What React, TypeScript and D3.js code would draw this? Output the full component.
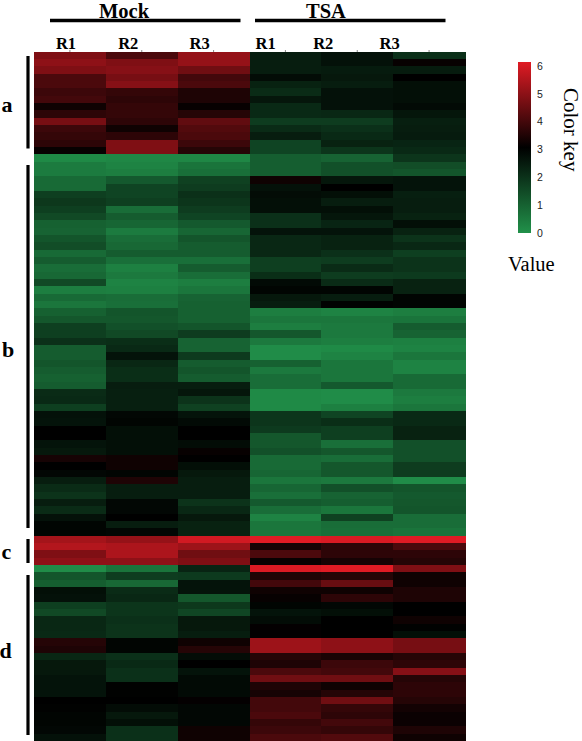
import * as d3 from 'd3';

const samples = ['Mock R1', 'Mock R2', 'Mock R3', 'TSA R1', 'TSA R2', 'TSA R3'];

// heatmap values per sample, top row to bottom row (94 rows)
const mockR1 = [
  4.7, 4.9, 4.7, 4.0, 4.0, 3.8, 3.9, 3.2, 3.6, 4.6, 3.8, 3.7, 3.6, 3.1,
  0.15, 0.45, 0.45, 0.8, 0.8, 1.7, 1.85, 1.7, 1.5, 1.0, 0.95, 1.25, 1.4, 0.8, 1.1, 0.75, 0.85, 1.5, 0.4, 0.8, 0.55, 1.0, 1.2,
  1.7, 1.7, 2.0, 1.1, 1.1, 1.25, 1.1, 1.0, 1.1, 2.1, 2.15, 1.7, 2.65, 2.6, 3.0, 3.0, 2.6, 2.5, 3.3, 3.0, 2.85, 2.4,
  2.1, 1.95, 2.4, 2.1, 2.65, 2.9, 2.9, 5.2, 5.4, 4.7, 4.9, 0.1, 1.25, 1.05,
  2.7, 2.65, 1.7, 1.5, 2.2, 2.2, 2.15, 3.5, 3.4, 2.2, 2.5, 2.5, 2.6, 2.6, 2.6, 3.0, 2.95, 2.9, 2.9, 2.85, 2.65,
];
const mockR2 = [
  4.0, 4.7, 4.8, 4.6, 4.8, 3.7, 3.6, 3.7, 3.7, 3.6, 3.2, 3.6, 4.7, 4.7,
  0.2, 0.3, 0.4, 1.15, 1.6, 1.6, 1.7, 0.75, 1.1, 0.9, 0.45, 0.75, 0.85, 1.1, 0.7, 0.35, 0.5, 0.3, 0.35, 0.75, 0.7, 1.25, 1.2,
  1.35, 1.5, 2.05, 2.15, 2.6, 2.2, 2.05, 2.05, 2.4, 2.35, 2.35, 2.35, 2.85, 2.9, 2.7, 2.7, 2.7, 2.7, 3.2, 3.2, 2.9, 3.4,
  2.4, 2.4, 2.85, 2.85, 3.0, 2.4, 2.85, 5.0, 5.3, 5.3, 4.9, 0.6, 1.75, 0.85,
  2.1, 2.2, 1.9, 1.9, 2.0, 1.95, 1.95, 2.9, 2.9, 2.0, 2.15, 2.0, 2.0, 2.95, 2.95, 3.0, 2.75, 2.5, 2.7, 2.0, 2.0,
];
const mockR3 = [
  5.0, 5.0, 4.5, 3.9, 4.0, 3.4, 3.4, 3.1, 3.5, 4.3, 4.1, 4.0, 3.8, 3.5,
  0.2, 0.6, 0.7, 1.65, 1.75, 2.0, 1.9, 1.75, 1.6, 1.15, 0.9, 1.25, 1.1, 1.1, 0.7, 1.1, 0.75, 0.4, 0.55, 0.95, 1.0, 1.0, 1.0,
  1.25, 1.75, 0.95, 0.95, 1.8, 1.1, 1.25, 1.1, 2.4, 2.55, 1.95, 1.65, 2.6, 2.8, 3.0, 3.0, 2.75, 3.1, 3.0, 2.7, 2.5, 2.4,
  2.4, 2.4, 1.95, 2.2, 2.5, 2.3, 2.3, 5.8, 5.1, 4.5, 4.7, 2.25, 1.8, 2.6,
  2.6, 1.2, 1.85, 1.55, 2.5, 2.5, 2.4, 3.2, 3.5, 2.75, 3.0, 2.6, 2.8, 2.8, 2.8, 3.05, 2.85, 2.85, 2.85, 3.2, 3.2,
];
const tsaR1 = [
  2.4, 2.4, 2.4, 2.75, 2.3, 2.1, 2.55, 2.15, 2.15, 1.75, 2.1, 2.4, 1.6, 1.6,
  1.05, 1.05, 1.05, 3.2, 2.65, 2.75, 2.7, 2.7, 2.0, 2.0, 2.6, 2.2, 2.2, 2.2, 1.7, 1.7, 2.05, 2.8, 2.9, 2.5, 2.4, 0.4, 0.55,
  0.4, 1.2, 0.5, 0.1, 0.1, 1.0, 0.5, 0.75, 0.75, 0.15, 0.15, 0.15, 1.9, 1.9, 1.8, 1.2, 1.2, 1.35, 0.8, 0.8, 0.9, 0.55,
  0.9, 0.7, 1.15, 0.75, 0.3, 0.55, 0.55, 6.0, 3.3, 4.0, 3.1, 5.9, 3.4, 3.9,
  3.2, 3.1, 2.9, 2.6, 2.75, 3.05, 3.05, 5.1, 5.1, 3.5, 3.4, 4.0, 4.5, 3.4, 3.3, 3.9, 3.9, 4.0, 3.7, 3.8, 4.0,
];
const tsaR2 = [
  2.65, 2.65, 2.45, 2.5, 2.4, 2.65, 2.65, 2.65, 2.2, 1.75, 2.0, 2.15, 2.3, 1.9,
  0.95, 1.35, 1.35, 2.55, 3.0, 2.7, 2.4, 2.7, 2.55, 2.25, 2.6, 2.3, 2.3, 2.0, 1.75, 2.1, 1.75, 2.1, 2.9, 2.4, 2.95, 0.3, 0.55,
  0.5, 0.5, 0.4, 0.15, 0.3, 0.55, 0.55, 0.55, 1.15, 0.1, 0.1, 0.35, 1.6, 2.05, 1.7, 1.7, 0.7, 1.2, 0.75, 1.2, 1.2, 0.5,
  1.35, 0.95, 1.05, 0.55, 1.65, 0.75, 0.7, 5.9, 3.6, 3.6, 3.3, 6.0, 3.5, 4.4,
  3.2, 3.6, 2.85, 2.7, 3.0, 3.0, 3.0, 4.9, 4.9, 3.35, 3.8, 3.9, 4.5, 3.2, 3.5, 4.5, 3.7, 3.6, 3.9, 3.7, 4.1,
];
const tsaR3 = [
  2.0, 3.1, 2.45, 3.0, 2.7, 2.7, 2.7, 2.8, 2.55, 2.35, 2.4, 2.45, 2.25, 2.15,
  1.9, 1.4, 1.25, 2.6, 2.6, 2.35, 2.4, 2.4, 2.3, 2.7, 2.3, 1.95, 2.2, 1.7, 1.95, 1.95, 1.8, 2.3, 2.3, 2.9, 2.9, 0.4, 0.6,
  1.1, 0.95, 0.35, 0.3, 0.55, 0.3, 0.3, 0.8, 0.8, 0.5, 0.4, 0.55, 2.15, 2.15, 2.3, 2.3, 1.35, 1.35, 1.35, 1.75, 1.75, 0.1,
  1.25, 1.15, 1.2, 1.25, 0.75, 0.75, 0.6, 6.0, 4.0, 3.6, 3.5, 4.7, 3.2, 3.2,
  3.4, 3.4, 3.0, 3.0, 3.2, 2.95, 2.7, 4.6, 4.6, 3.5, 3.6, 4.8, 3.5, 3.6, 3.6, 3.5, 3.25, 3.15, 3.15, 3.4, 3.2,
];
const matrix = [mockR1, mockR2, mockR3, tsaR1, tsaR2, tsaR3];

const keyTicks = [0, 1, 2, 3, 4, 5, 6];

const groups = ['Mock', 'TSA'];
const groupX = [124, 326];
const replicates = ['R1', 'R2', 'R3', 'R1', 'R2', 'R3'];
const replicateX = [66, 128.3, 199.7, 265.7, 323.3, 389.7];
const groupSpans = [[50, 240.5], [255, 445.5]];
const clusters = ['a', 'b', 'c', 'd'];
const clusterSpans = [[56, 148.5], [165, 528], [539, 563], [575, 735]];
const clusterLabelY = [112, 357, 558.5, 658];
const clusterLabelX = [7, 8, 6.5, 5.5];

const serif = '"Liberation Serif", serif';

export default function App() {
  const rows = d3.range(mockR1.length);
  const x = d3.scaleBand<string>().domain(samples).range([34, 465]);
  const y = d3.scaleBand<number>().domain(rows).range([51.7, 741]);
  const color = d3.scaleLinear<string>().domain([0, 3, 6]).range(['#21914a', '#000000', '#e01b24']);
  const keyY = d3.scaleLinear().domain([0, 6]).range([233, 66]);

  return (
    <svg width={582} height={741} style={{ position: 'absolute', left: 0, top: 0, display: 'block' }}>
      <defs>
        <linearGradient id="key" x1="0" y1="1" x2="0" y2="0">
          {keyTicks.map(t => (
            <stop key={t} offset={t / 6} stopColor={color(t)} />
          ))}
        </linearGradient>
      </defs>

      {/* heatmap */}
      <g shapeRendering="crispEdges">
        {samples.map((s, i) =>
          rows.map(r => (
            <rect
              key={s + r}
              x={x(s)}
              y={y(r)}
              width={x.bandwidth() + 0.5}
              height={y.bandwidth() + 0.5}
              fill={color(matrix[i][r])}
            />
          ))
        )}
      </g>

      {/* small ticks above the columns */}
      {samples.map(s => (
        <line
          key={s}
          x1={x(s)! + x.bandwidth() / 2}
          x2={x(s)! + x.bandwidth() / 2}
          y1={50}
          y2={52}
          stroke="#555"
          strokeWidth={0.7}
        />
      ))}

      {/* group headers */}
      {groups.map((g, i) => (
        <g key={g}>
          <line x1={groupSpans[i][0]} x2={groupSpans[i][1]} y1={20.5} y2={20.5} stroke="#000" strokeWidth={3.5} />
          <text x={groupX[i]} y={18} textAnchor="middle" fontFamily={serif} fontWeight="bold" fontSize={20.5}>
            {g}
          </text>
        </g>
      ))}
      {replicates.map((r, i) => (
        <text key={i} x={replicateX[i]} y={49} textAnchor="middle" fontFamily={serif} fontWeight="bold" fontSize={16.5}>
          {r}
        </text>
      ))}

      {/* cluster brackets */}
      {clusters.map((c, i) => (
        <g key={c}>
          <line x1={28} x2={28} y1={clusterSpans[i][0]} y2={clusterSpans[i][1]} stroke="#000" strokeWidth={3.2} />
          <text x={clusterLabelX[i]} y={clusterLabelY[i]} textAnchor="middle" fontFamily={serif} fontWeight="bold" fontSize={22}>
            {c}
          </text>
        </g>
      ))}

      {/* color key */}
      <rect x={518} y={62} width={13} height={171} fill="url(#key)" />
      {keyTicks.map(t => (
        <text key={t} x={537} y={keyY(t)} dy="0.35em" fontFamily='"Liberation Sans", sans-serif' fontSize={10.5} fill="#222">
          {t}
        </text>
      ))}
      <text transform="translate(564,88) rotate(90)" fontFamily={serif} fontSize={21}>
        Color key
      </text>
      <text x={508} y={271} fontFamily={serif} fontSize={20.5}>
        Value
      </text>
    </svg>
  );
}
